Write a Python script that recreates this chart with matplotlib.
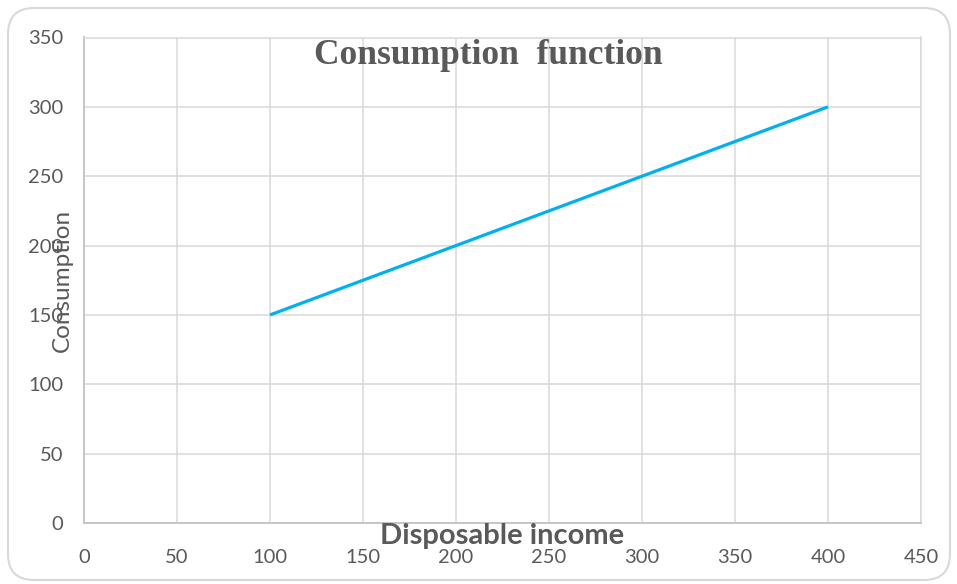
import matplotlib
matplotlib.use("Agg")
import matplotlib.pyplot as plt
from matplotlib.patches import FancyBboxPatch
from matplotlib.transforms import IdentityTransform

# Consumption as a function of disposable income
income = [100, 200, 300, 400]
consumption = [150, 200, 250, 300]
x_ticks = [0, 50, 100, 150, 200, 250, 300, 350, 400, 450]
y_ticks = [0, 50, 100, 150, 200, 250, 300, 350]

text_gray = "#595959"
grid_gray = "#d9d9d9"
line_blue = "#00b0f0"

fig = plt.figure(figsize=(9.57, 5.84), dpi=100)
fig.patch.set_facecolor("white")

# rounded chart frame
frame = FancyBboxPatch((8, 4), 942, 572,
                       boxstyle="round,pad=0,rounding_size=26",
                       transform=IdentityTransform(),
                       facecolor="none", edgecolor=grid_gray, linewidth=1.5,
                       zorder=-1)
fig.patches.append(frame)

ax = fig.add_axes([84 / 957, 61 / 584, 837 / 957, 485.5 / 584])
ax.set_facecolor("none")

ax.plot(income, consumption, color=line_blue, linewidth=2.3,
        solid_capstyle="butt", zorder=3)

ax.set_xlim(0, 450)
ax.set_ylim(0, 350)
ax.set_xticks(x_ticks)
ax.set_yticks(y_ticks)
ax.set_xticklabels([str(v) for v in x_ticks])
ax.set_yticklabels([str(v) for v in y_ticks])

ax.grid(True, color=grid_gray, linewidth=1.1, zorder=1)
ax.set_axisbelow(True)
for side in ["top", "right"]:
    ax.spines[side].set_color(grid_gray)
    ax.spines[side].set_linewidth(1.1)
for side in ["left", "bottom"]:
    ax.spines[side].set_color("#c6c6c6")
    ax.spines[side].set_linewidth(1.4)

ax.tick_params(axis="both", length=0, labelsize=14.5, labelcolor=text_gray)
ax.tick_params(axis="x", pad=19)
ax.tick_params(axis="y", pad=15)
for lab in ax.get_xticklabels() + ax.get_yticklabels():
    lab.set_fontfamily("Lato")

fig.text(488 / 957, 1 - 55 / 584, "Consumption  function",
         ha="center", va="center", fontsize=25.5, fontweight="bold",
         family="Liberation Serif", color=text_gray, zorder=5)

fig.text(502 / 957, 1 - 536 / 584, "Disposable income",
         ha="center", va="center", fontsize=21, fontweight="bold",
         family="Lato", color=text_gray, zorder=5)

fig.text(62 / 957, 1 - 280 / 584, "Consumption",
         ha="center", va="center", rotation=90, fontsize=17.5,
         family="Lato", color=text_gray, zorder=5)

fig.savefig("out.png", dpi=100)
